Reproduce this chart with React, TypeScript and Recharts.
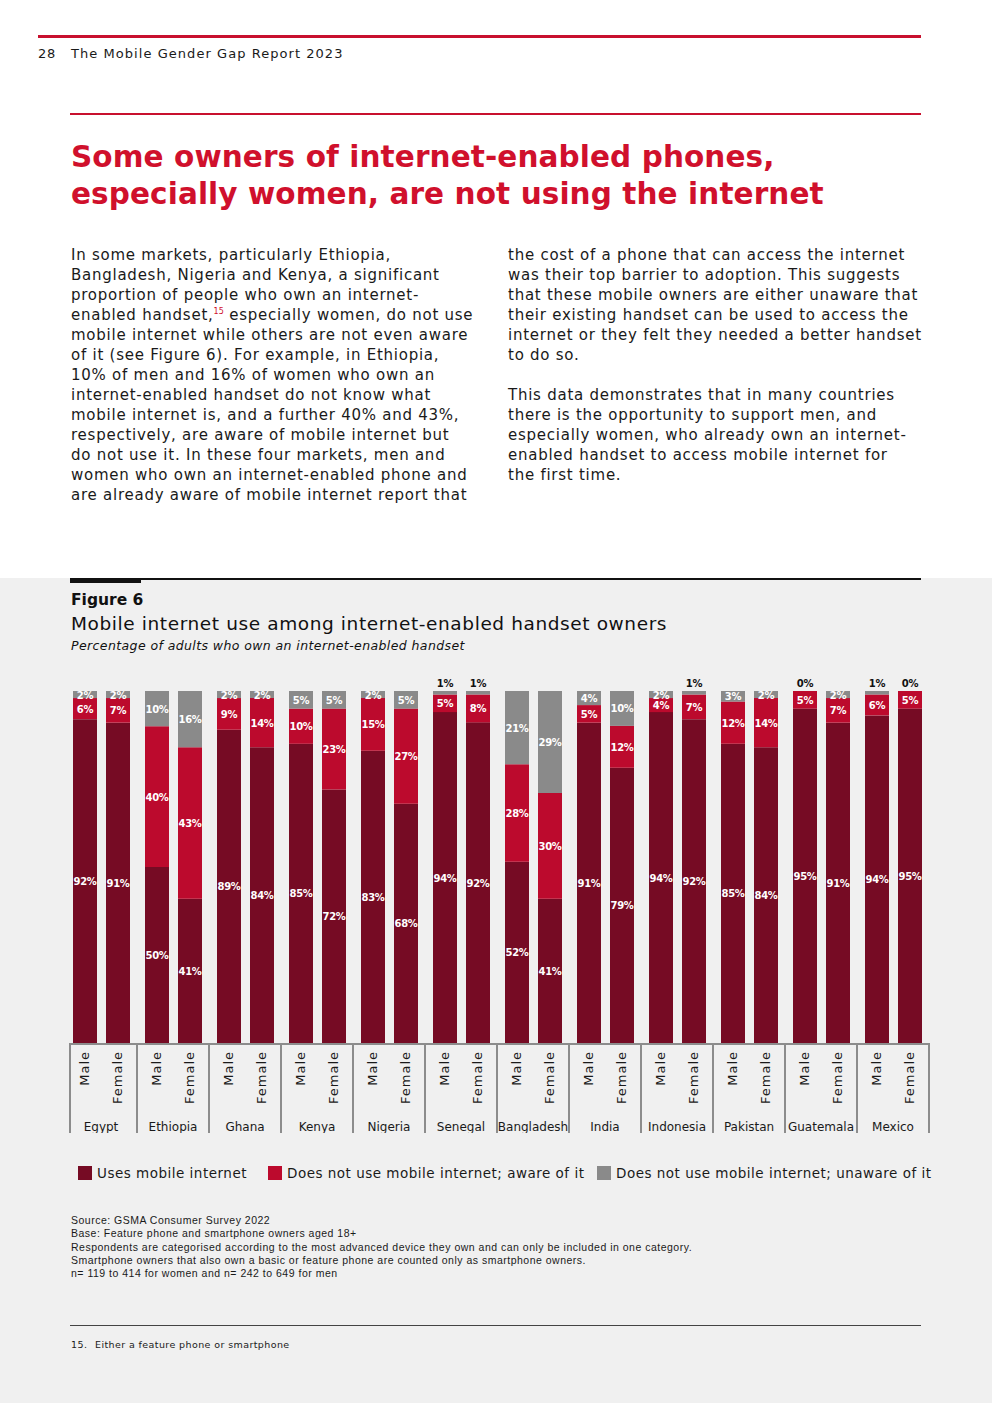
import React from "react"
import { Bar, BarChart, XAxis, YAxis, LabelList } from "recharts"

// Figure 6 data (percent of internet-enabled handset owners)
const countries = [
  "Egypt", "Ethiopia", "Ghana", "Kenya", "Nigeria", "Senegal",
  "Bangladesh", "India", "Indonesia", "Pakistan", "Guatemala", "Mexico",
]
const maleUses = [92, 50, 89, 85, 83, 94, 52, 91, 94, 85, 95, 94]
const maleAware = [6, 40, 9, 10, 15, 5, 28, 5, 4, 12, 5, 6]
const maleUnaware = [2, 10, 2, 5, 2, 1, 21, 4, 2, 3, 0, 1]
const femaleUses = [91, 41, 84, 72, 68, 92, 41, 79, 92, 84, 91, 95]
const femaleAware = [7, 43, 14, 23, 27, 8, 30, 12, 7, 14, 7, 5]
const femaleUnaware = [2, 16, 2, 5, 5, 1, 29, 10, 1, 2, 2, 0]

const seriesNames = [
  "Uses mobile internet",
  "Does not use mobile internet; aware of it",
  "Does not use mobile internet; unaware of it",
]
const seriesColors = ["#760B24", "#BC0A2D", "#8A8A8A"]

const data = countries.map((country, i) => ({
  country,
  maleUses: maleUses[i],
  maleAware: maleAware[i],
  maleUnaware: maleUnaware[i],
  femaleUses: femaleUses[i],
  femaleAware: femaleAware[i],
  femaleUnaware: femaleUnaware[i],
}))

const GRAY = "#8C8C8C"
const BAND = 72

function SegmentLabel(props: any) {
  const { x, y, width, height, value } = props
  if (value == null || value === 0) return null
  const cx = x + width / 2
  const above = value <= 1
  return (
    <text
      x={cx}
      y={above ? y - 4 : y + height / 2 + 4}
      textAnchor="middle"
      fontSize={10}
      letterSpacing={-0.3}
      fontWeight="bold"
      fill={above ? "#111" : "#fff"}
      fontFamily="DejaVu Sans"
    >
      {value}%
    </text>
  )
}

// a 0% unaware segment has no height, so its label hangs off the top of the "aware" segment
function ZeroTopLabel(props: any) {
  const { x, y, width, value } = props
  if (value !== 0) return null
  return (
    <text x={x + width / 2} y={y - 4} textAnchor="middle" fontSize={10} letterSpacing={-0.3} fontWeight="bold" fill="#111" fontFamily="DejaVu Sans">
      0%
    </text>
  )
}

function GroupTick(props: any) {
  const { x, y, payload, index } = props
  const left = index === 0 ? x - 31 : x - BAND / 2
  const right = x + BAND / 2
  const last = index === countries.length - 1
  const sexLabel = (label: string, cx: number) => (
    <text
      x={cx + 5}
      y={y + 8}
      transform={`rotate(-90 ${cx + 5} ${y + 8})`}
      textAnchor="end"
      fontSize={13}
      letterSpacing={1}
      fill="#1a1a1a"
      fontFamily="DejaVu Sans"
    >
      {label}
    </text>
  )
  return (
    <g>
      <line x1={left} x2={right} y1={y + 1} y2={y + 1} stroke={GRAY} strokeWidth={2} />
      <line x1={left} x2={left} y1={y} y2={y + 90} stroke={GRAY} strokeWidth={2} />
      {last && <line x1={right} x2={right} y1={y} y2={y + 90} stroke={GRAY} strokeWidth={2} />}
      {sexLabel("Male", x - 17)}
      {sexLabel("Female", x + 16)}
      <text x={x} y={y + 88} textAnchor="middle" fontSize={12} fill="#1a1a1a" fontFamily="DejaVu Sans">
        {payload.value}
      </text>
    </g>
  )
}

const leftCol = [
  "In some markets, particularly Ethiopia,",
  "Bangladesh, Nigeria and Kenya, a significant",
  "proportion of people who own an internet-",
  "@@",
  "mobile internet while others are not even aware",
  "of it (see Figure 6). For example, in Ethiopia,",
  "10% of men and 16% of women who own an",
  "internet-enabled handset do not know what",
  "mobile internet is, and a further 40% and 43%,",
  "respectively, are aware of mobile internet but",
  "do not use it. In these four markets, men and",
  "women who own an internet-enabled phone and",
  "are already aware of mobile internet report that",
]
const rightCol = [
  "the cost of a phone that can access the internet",
  "was their top barrier to adoption. This suggests",
  "that these mobile owners are either unaware that",
  "their existing handset can be used to access the",
  "internet or they felt they needed a better handset",
  "to do so.",
  "",
  "This data demonstrates that in many countries",
  "there is the opportunity to support men, and",
  "especially women, who already own an internet-",
  "enabled handset to access mobile internet for",
  "the first time.",
]
const notes = [
  "Source: GSMA Consumer Survey 2022",
  "Base: Feature phone and smartphone owners aged 18+",
  "Respondents are categorised according to the most advanced device they own and can only be included in one category.",
  "Smartphone owners that also own a basic or feature phone are counted only as smartphone owners.",
  "n= 119 to 414 for women and n= 242 to 649 for men",
]

const bodyStyle: React.CSSProperties = {
  position: "absolute",
  top: 245,
  fontSize: 15,
  lineHeight: "20px",
  letterSpacing: 0.75,
  color: "#1a1a1a",
  whiteSpace: "nowrap",
}

function BodyLine({ text }: { text: string }) {
  if (text === "@@") {
    return (
      <div>
        enabled handset,<sup style={{ color: "#D0102C", fontSize: 8, verticalAlign: "6px", lineHeight: 0, letterSpacing: 0 }}>15</sup> especially women, do not use
      </div>
    )
  }
  return <div>{text || "\u00a0"}</div>
}

const legendLeft = [78, 268, 597]

export default function App() {
  return (
    <div
      style={{
        position: "absolute",
        left: 0,
        top: 0,
        width: 992,
        height: 1403,
        background: "#fff",
        fontFamily: "DejaVu Sans",
        overflow: "hidden",
      }}
    >
      {/* page header */}
      <div style={{ position: "absolute", left: 38, top: 35, width: 883, height: 3, background: "#C8102E" }} />
      <div style={{ position: "absolute", left: 38, top: 46, fontSize: 13, letterSpacing: 0.8, color: "#1a1a1a" }}>28</div>
      <div style={{ position: "absolute", left: 71, top: 46, fontSize: 13, letterSpacing: 1.05, color: "#1a1a1a" }}>
        The Mobile Gender Gap Report 2023
      </div>
      <div style={{ position: "absolute", left: 70, top: 113, width: 851, height: 2, background: "#C8102E" }} />

      <div
        style={{
          position: "absolute",
          left: 71,
          top: 139,
          fontSize: 29.5,
          lineHeight: "37px",
          fontWeight: "bold",
          color: "#D0102C",
          whiteSpace: "nowrap",
          letterSpacing: 0.1,
        }}
      >
        <div>Some owners of internet-enabled phones,</div>
        <div>especially women, are not using the internet</div>
      </div>

      <div style={{ ...bodyStyle, left: 71 }}>
        {leftCol.map((t, i) => (
          <BodyLine key={i} text={t} />
        ))}
      </div>
      <div style={{ ...bodyStyle, left: 508 }}>
        {rightCol.map((t, i) => (
          <BodyLine key={i} text={t} />
        ))}
      </div>

      {/* figure panel */}
      <div style={{ position: "absolute", left: 0, top: 578, width: 992, height: 825, background: "#F0F0F0" }} />
      <div style={{ position: "absolute", left: 70, top: 578, width: 851, height: 2, background: "#111" }} />
      <div style={{ position: "absolute", left: 70, top: 578, width: 71, height: 5, background: "#111" }} />
      <div style={{ position: "absolute", left: 71, top: 591, fontSize: 15.5, fontWeight: "bold", color: "#111" }}>Figure 6</div>
      <div style={{ position: "absolute", left: 71, top: 613, fontSize: 18.5, letterSpacing: 0.6, color: "#111", whiteSpace: "nowrap" }}>
        Mobile internet use among internet-enabled handset owners
      </div>
      <div style={{ position: "absolute", left: 71, top: 638, fontSize: 12.5, fontStyle: "italic", letterSpacing: 0.4, color: "#111", whiteSpace: "nowrap" }}>
        Percentage of adults who own an internet-enabled handset
      </div>

      <div style={{ position: "absolute", left: 0, top: 660 }}>
        <BarChart
          width={992}
          height={473}
          data={data}
          stackOffset="expand"
          barSize={24}
          barGap={9}
          margin={{ top: 31, right: 63, bottom: 0, left: 65 }}
        >
          <XAxis
            dataKey="country"
            interval={0}
            axisLine={false}
            tickLine={false}
            tickSize={0}
            tickMargin={0}
            height={90}
            tick={<GroupTick />}
          />
          <YAxis hide domain={[0, 1]} />
          <Bar dataKey="maleUses" stackId="m" fill={seriesColors[0]} isAnimationActive={false}>
            <LabelList dataKey="maleUses" content={<SegmentLabel />} />
          </Bar>
          <Bar dataKey="maleAware" stackId="m" fill={seriesColors[1]} isAnimationActive={false}>
            <LabelList dataKey="maleAware" content={<SegmentLabel />} />
            <LabelList dataKey="maleUnaware" content={<ZeroTopLabel />} />
          </Bar>
          <Bar dataKey="maleUnaware" stackId="m" fill={seriesColors[2]} isAnimationActive={false}>
            <LabelList dataKey="maleUnaware" content={<SegmentLabel />} />
          </Bar>
          <Bar dataKey="femaleUses" stackId="f" fill={seriesColors[0]} isAnimationActive={false}>
            <LabelList dataKey="femaleUses" content={<SegmentLabel />} />
          </Bar>
          <Bar dataKey="femaleAware" stackId="f" fill={seriesColors[1]} isAnimationActive={false}>
            <LabelList dataKey="femaleAware" content={<SegmentLabel />} />
            <LabelList dataKey="femaleUnaware" content={<ZeroTopLabel />} />
          </Bar>
          <Bar dataKey="femaleUnaware" stackId="f" fill={seriesColors[2]} isAnimationActive={false}>
            <LabelList dataKey="femaleUnaware" content={<SegmentLabel />} />
          </Bar>
        </BarChart>
      </div>

      {/* legend */}
      {seriesNames.map((name, i) => (
        <div
          key={name}
          style={{ position: "absolute", left: legendLeft[i], top: 1165, display: "flex", alignItems: "center", whiteSpace: "nowrap" }}
        >
          <div style={{ width: 14, height: 14, background: seriesColors[i], marginRight: 5 }} />
          <span style={{ fontSize: 13.5, letterSpacing: 0.5, color: "#1a1a1a" }}>{name}</span>
        </div>
      ))}

      {/* notes */}
      <div
        style={{
          position: "absolute",
          left: 71,
          top: 1214,
          fontSize: 10.5,
          lineHeight: "13.3px",
          letterSpacing: 0.5,
          color: "#1a1a1a",
          fontFamily: "Liberation Sans",
          whiteSpace: "nowrap",
        }}
      >
        {notes.map((n) => (
          <div key={n}>{n}</div>
        ))}
      </div>

      <div style={{ position: "absolute", left: 70, top: 1325, width: 851, height: 1, background: "#444" }} />
      <div style={{ position: "absolute", left: 71, top: 1339, fontSize: 9.5, letterSpacing: 0.4, color: "#1a1a1a", whiteSpace: "nowrap" }}>
        15.
      </div>
      <div style={{ position: "absolute", left: 95, top: 1339, fontSize: 9.5, letterSpacing: 0.4, color: "#1a1a1a", whiteSpace: "nowrap" }}>
        Either a feature phone or smartphone
      </div>
    </div>
  )
}
